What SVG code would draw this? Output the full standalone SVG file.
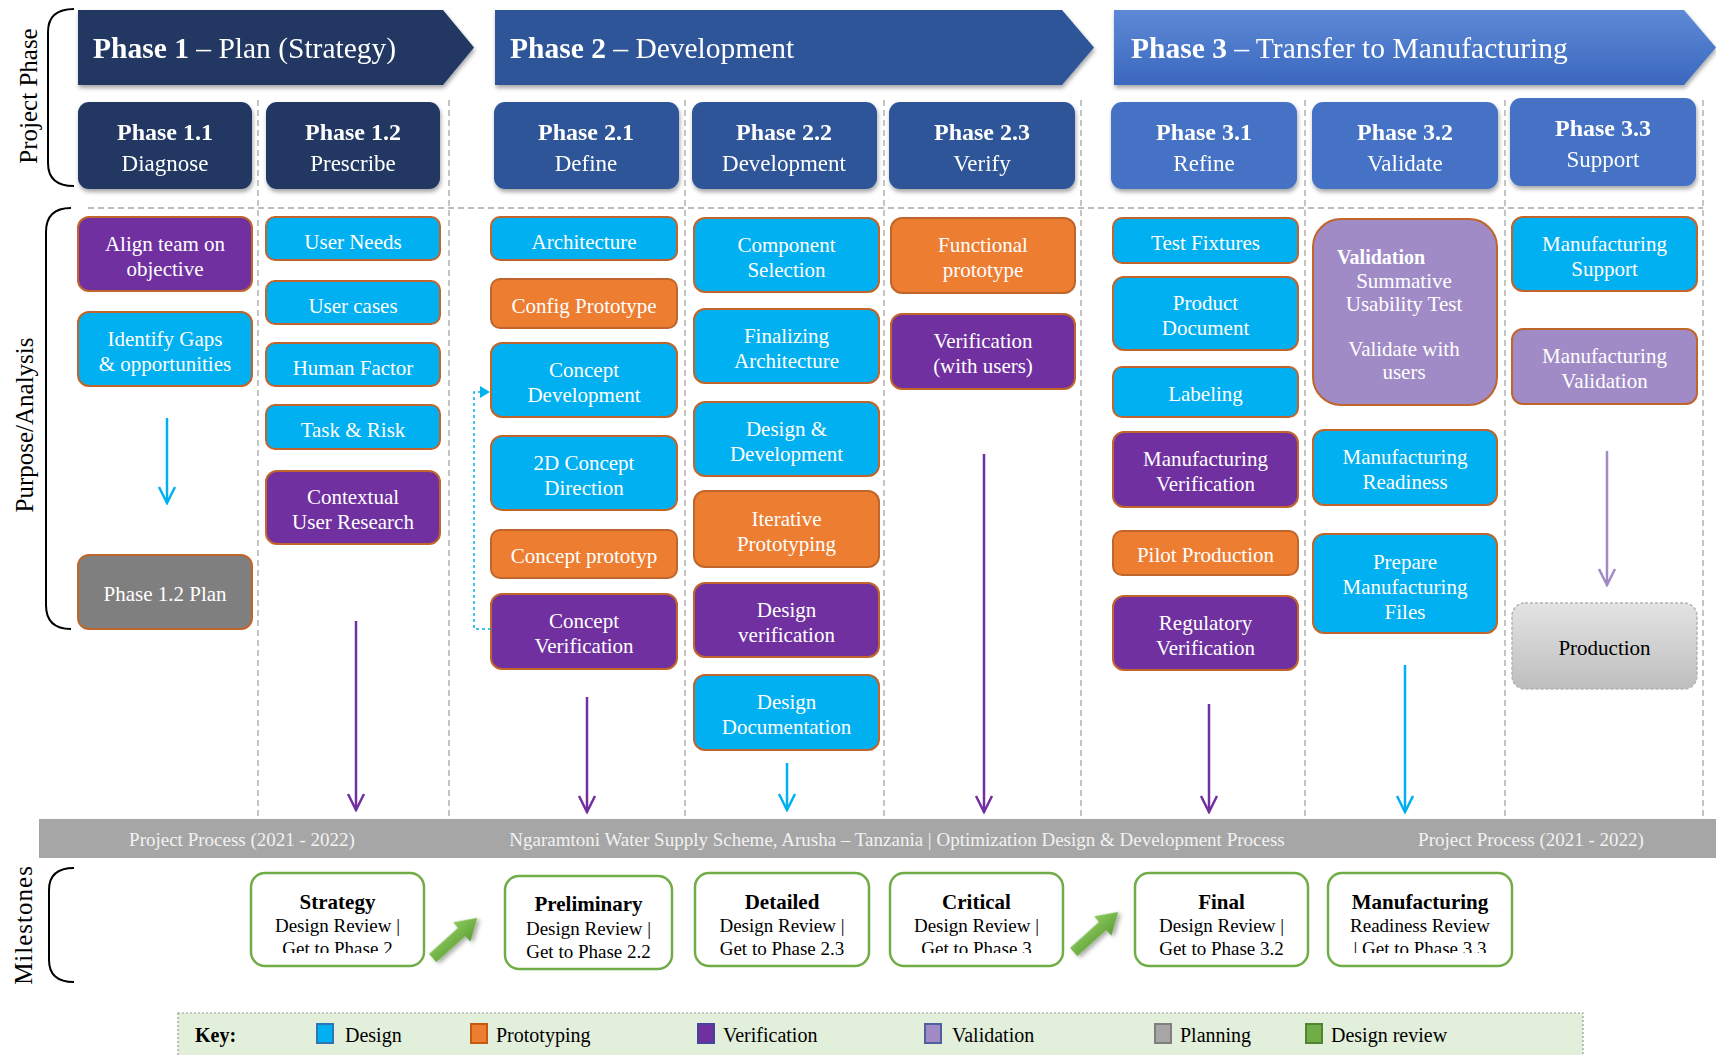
<svg xmlns="http://www.w3.org/2000/svg" width="1716" height="1055" viewBox="0 0 1716 1055">
<style>
text{font-family:"Liberation Serif","Times New Roman",serif}
.bt{font-size:21px;fill:#fff;text-anchor:middle;transform:translate(0px,2px)}
.box{stroke:#C0652B;stroke-width:2}
.de{fill:#00B0F0}.pr{fill:#ED7D31}.ve{fill:#7030A0}.va{fill:#A08BC6}.pl{fill:#7F7F7F}
.hd{font-size:29.5px;fill:#fff}
.sb1{font-size:24px;font-weight:bold;fill:#fff;text-anchor:middle}
.sb2{font-size:23px;fill:#fff;text-anchor:middle}
.vd{stroke:#A6A6A6;stroke-width:1.3;stroke-dasharray:6 4;fill:none}
.lab{font-size:25px;fill:#000;text-anchor:middle}
.br{fill:none;stroke:#000;stroke-width:2}
.ms{fill:#fff;stroke:#70AD47;stroke-width:2.5}
.m1{font-size:21px;font-weight:bold;fill:#000;text-anchor:middle}
.m2{font-size:19px;fill:#000;text-anchor:middle}
.band{font-size:19px;fill:#F2F2F2;text-anchor:middle}
.key{font-size:20px;fill:#000}
.ln{fill:none;stroke-width:2.5}
</style>
<defs>
<filter id="sh" x="-10%" y="-10%" width="125%" height="140%"><feDropShadow dx="1" dy="3" stdDeviation="2" flood-color="#000" flood-opacity="0.35"/></filter>
<linearGradient id="g3" x1="0" y1="0" x2="0" y2="1"><stop offset="0" stop-color="#5E89D6"/><stop offset="1" stop-color="#3A68BE"/></linearGradient>
<linearGradient id="gp" x1="0" y1="0" x2="0" y2="1"><stop offset="0" stop-color="#E3E3E3"/><stop offset="1" stop-color="#BEBEBE"/></linearGradient>
<linearGradient id="gg" x1="0" y1="0" x2="0" y2="1"><stop offset="0" stop-color="#8CCB5E"/><stop offset="1" stop-color="#5E9E35"/></linearGradient>
<marker id="aB" viewBox="-18 -10 20 20" refX="0" refY="0" markerWidth="20" markerHeight="20" markerUnits="userSpaceOnUse" orient="auto"><path d="M-16,-8 L0,0 L-16,8" fill="none" stroke="#00B0F0" stroke-width="2.5"/></marker>
<marker id="aP" viewBox="-18 -10 20 20" refX="0" refY="0" markerWidth="20" markerHeight="20" markerUnits="userSpaceOnUse" orient="auto"><path d="M-16,-8 L0,0 L-16,8" fill="none" stroke="#7030A0" stroke-width="2.5"/></marker>
<marker id="aL" viewBox="-18 -10 20 20" refX="0" refY="0" markerWidth="20" markerHeight="20" markerUnits="userSpaceOnUse" orient="auto"><path d="M-16,-8 L0,0 L-16,8" fill="none" stroke="#A08BC6" stroke-width="2.5"/></marker>
<marker id="tri" viewBox="-10 -6 12 12" refX="0" refY="0" markerWidth="12" markerHeight="12" markerUnits="userSpaceOnUse" orient="auto"><path d="M-10,-6 L0,0 L-10,6 z" fill="#00B0F0"/></marker>
<clipPath id="c1"><rect x="251" y="873" width="173" height="80"/></clipPath>
<clipPath id="c4"><rect x="890" y="873" width="173" height="80"/></clipPath>
<clipPath id="c6"><rect x="1328" y="873" width="184" height="80"/></clipPath>
</defs>
<rect width="1716" height="1055" fill="#fff"/>

<!-- side labels and brackets -->
<g id="side-labels">
<path class="br" d="M74,9 Q48,9 48,32 L48,163 Q48,186 74,186"/>
<text class="lab" font-size="27" transform="translate(37,96) rotate(-90)">Project Phase</text>
<path class="br" d="M71,208 Q46,208 46,232 L46,605 Q46,629 71,629"/>
<text class="lab" transform="translate(33,425) rotate(-90)">Purpose/Analysis</text>
<path class="br" d="M74,868 Q49,868 49,890 L49,960 Q49,982 74,982"/>
<text class="lab" font-size="24" letter-spacing="1" transform="translate(32,925) rotate(-90)">Milestones</text>
</g>

<!-- grid -->
<g id="grid">
<path class="vd" d="M88,208 H1703"/>
<path class="vd" d="M258,100 V818 M449,100 V818 M685,100 V818 M884,100 V818 M1081,100 V818 M1305,100 V818 M1505,100 V818 M1703,100 V818"/>
</g>

<!-- phase headers -->
<g id="phase1" filter="url(#sh)">
<polygon points="78,10 443,10 474,47.5 443,85 78,85" fill="#203864"/>
<text class="hd" x="93" y="58"><tspan font-weight="bold">Phase 1</tspan> – Plan (Strategy)</text>
</g>
<g id="phase2" filter="url(#sh)">
<polygon points="495,10 1062,10 1094,47.5 1062,85 495,85" fill="#2F5597"/>
<text class="hd" x="510" y="58"><tspan font-weight="bold">Phase 2</tspan> – Development</text>
</g>
<g id="phase3" filter="url(#sh)">
<polygon points="1114,10 1684,10 1716,47.5 1684,85 1114,85" fill="url(#g3)"/>
<text class="hd" x="1131" y="58"><tspan font-weight="bold">Phase 3</tspan> – Transfer to Manufacturing</text>
</g>

<g id="p11" filter="url(#sh)"><rect x="78" y="102" width="174" height="87" rx="11" fill="#203864"/><text class="sb1" x="165" y="140">Phase 1.1</text><text class="sb2" x="165" y="171">Diagnose</text></g>
<g id="p12" filter="url(#sh)"><rect x="266" y="102" width="174" height="87" rx="11" fill="#203864"/><text class="sb1" x="353" y="140">Phase 1.2</text><text class="sb2" x="353" y="171">Prescribe</text></g>
<g id="p21" filter="url(#sh)"><rect x="494" y="102" width="185" height="87" rx="11" fill="#2F5597"/><text class="sb1" x="586" y="140">Phase 2.1</text><text class="sb2" x="586" y="171">Define</text></g>
<g id="p22" filter="url(#sh)"><rect x="692" y="102" width="185" height="87" rx="11" fill="#2F5597"/><text class="sb1" x="784" y="140">Phase 2.2</text><text class="sb2" x="784" y="171">Development</text></g>
<g id="p23" filter="url(#sh)"><rect x="889" y="102" width="186" height="87" rx="11" fill="#2F5597"/><text class="sb1" x="982" y="140">Phase 2.3</text><text class="sb2" x="982" y="171">Verify</text></g>
<g id="p31" filter="url(#sh)"><rect x="1111" y="102" width="186" height="87" rx="11" fill="#4472C4"/><text class="sb1" x="1204" y="140">Phase 3.1</text><text class="sb2" x="1204" y="171">Refine</text></g>
<g id="p32" filter="url(#sh)"><rect x="1312" y="102" width="186" height="87" rx="11" fill="#4472C4"/><text class="sb1" x="1405" y="140">Phase 3.2</text><text class="sb2" x="1405" y="171">Validate</text></g>
<g id="p33" filter="url(#sh)"><rect x="1510" y="98" width="186" height="88" rx="11" fill="#4472C4"/><text class="sb1" x="1603" y="136">Phase 3.3</text><text class="sb2" x="1603" y="167">Support</text></g>

<!-- column 1.1 -->
<g id="align"><rect class="box ve" x="78" y="217" width="174" height="74" rx="11"/><text class="bt" x="165" y="249">Align team on</text><text class="bt" x="165" y="274">objective</text></g>
<g id="gaps"><rect class="box de" x="78" y="312" width="174" height="74" rx="11"/><text class="bt" x="165" y="344">Identify Gaps</text><text class="bt" x="165" y="369">&amp; opportunities</text></g>
<g id="plan"><rect class="box pl" x="78" y="555" width="174" height="74" rx="11"/><text class="bt" x="165" y="599" font-size="20" fill="#F2F2F2">Phase 1.2 Plan</text></g>

<!-- column 1.2 -->
<g id="userneeds"><rect class="box de" x="266" y="217" width="174" height="43" rx="9"/><text class="bt" x="353" y="247">User Needs</text></g>
<g id="usercases"><rect class="box de" x="266" y="281" width="174" height="43" rx="9"/><text class="bt" x="353" y="311">User cases</text></g>
<g id="humanfactor"><rect class="box de" x="266" y="343" width="174" height="43" rx="9"/><text class="bt" x="353" y="373">Human Factor</text></g>
<g id="taskrisk"><rect class="box de" x="266" y="405" width="174" height="44" rx="9"/><text class="bt" x="353" y="435">Task &amp; Risk</text></g>
<g id="contextual"><rect class="box ve" x="266" y="471" width="174" height="73" rx="11"/><text class="bt" x="353" y="502">Contextual</text><text class="bt" x="353" y="527">User Research</text></g>

<!-- column 2.1 -->
<g id="architecture"><rect class="box de" x="491" y="217" width="186" height="43" rx="9"/><text class="bt" x="584" y="247">Architecture</text></g>
<g id="configproto"><rect class="box pr" x="491" y="279" width="186" height="49" rx="9"/><text class="bt" x="584" y="311">Config Prototype</text></g>
<g id="conceptdev"><rect class="box de" x="491" y="343" width="186" height="74" rx="11"/><text class="bt" x="584" y="375">Concept</text><text class="bt" x="584" y="400">Development</text></g>
<g id="concept2d"><rect class="box de" x="491" y="436" width="186" height="74" rx="11"/><text class="bt" x="584" y="468">2D Concept</text><text class="bt" x="584" y="493">Direction</text></g>
<g id="conceptproto"><rect class="box pr" x="491" y="530" width="186" height="48" rx="9"/><text class="bt" x="584" y="561">Concept prototyp</text></g>
<g id="conceptverif"><rect class="box ve" x="491" y="594" width="186" height="75" rx="11"/><text class="bt" x="584" y="626">Concept</text><text class="bt" x="584" y="651">Verification</text></g>

<!-- column 2.2 -->
<g id="compsel"><rect class="box de" x="694" y="218" width="185" height="74" rx="11"/><text class="bt" x="786.5" y="250">Component</text><text class="bt" x="786.5" y="275">Selection</text></g>
<g id="finarch"><rect class="box de" x="694" y="309" width="185" height="74" rx="11"/><text class="bt" x="786.5" y="341">Finalizing</text><text class="bt" x="786.5" y="366">Architecture</text></g>
<g id="designdev"><rect class="box de" x="694" y="402" width="185" height="74" rx="11"/><text class="bt" x="786.5" y="434">Design &amp;</text><text class="bt" x="786.5" y="459">Development</text></g>
<g id="iterproto"><rect class="box pr" x="694" y="491" width="185" height="76" rx="11"/><text class="bt" x="786.5" y="524">Iterative</text><text class="bt" x="786.5" y="549">Prototyping</text></g>
<g id="designverif"><rect class="box ve" x="694" y="583" width="185" height="74" rx="11"/><text class="bt" x="786.5" y="615">Design</text><text class="bt" x="786.5" y="640">verification</text></g>
<g id="designdoc"><rect class="box de" x="694" y="675" width="185" height="75" rx="11"/><text class="bt" x="786.5" y="707">Design</text><text class="bt" x="786.5" y="732">Documentation</text></g>

<!-- column 2.3 -->
<g id="funcproto"><rect class="box pr" x="891" y="218" width="184" height="75" rx="11"/><text class="bt" x="983" y="250">Functional</text><text class="bt" x="983" y="275">prototype</text></g>
<g id="verifusers"><rect class="box ve" x="891" y="314" width="184" height="75" rx="11"/><text class="bt" x="983" y="346">Verification</text><text class="bt" x="983" y="371">(with users)</text></g>

<!-- column 3.1 -->
<g id="testfix"><rect class="box de" x="1113" y="218" width="185" height="45" rx="9"/><text class="bt" x="1205.5" y="248">Test Fixtures</text></g>
<g id="proddoc"><rect class="box de" x="1113" y="277" width="185" height="73" rx="11"/><text class="bt" x="1205.5" y="308">Product</text><text class="bt" x="1205.5" y="333">Document</text></g>
<g id="labeling"><rect class="box de" x="1113" y="367" width="185" height="50" rx="9"/><text class="bt" x="1205.5" y="399">Labeling</text></g>
<g id="mfgverif"><rect class="box ve" x="1113" y="432" width="185" height="75" rx="11"/><text class="bt" x="1205.5" y="464">Manufacturing</text><text class="bt" x="1205.5" y="489">Verification</text></g>
<g id="pilot"><rect class="box pr" x="1113" y="531" width="185" height="44" rx="9"/><text class="bt" x="1205.5" y="560">Pilot Production</text></g>
<g id="regverif"><rect class="box ve" x="1113" y="596" width="185" height="74" rx="11"/><text class="bt" x="1205.5" y="628">Regulatory</text><text class="bt" x="1205.5" y="653">Verification</text></g>

<!-- column 3.2 -->
<g id="validation"><rect class="box va" x="1313" y="219" width="184" height="186" rx="28"/>
<text x="1337" y="264" font-size="20" font-weight="bold" fill="#fff">Validation</text>
<text class="bt" x="1404" y="286" font-size="18">Summative</text>
<text class="bt" x="1404" y="309" font-size="18">Usability Test</text>
<text class="bt" x="1404" y="354" font-size="18">Validate with</text>
<text class="bt" x="1404" y="377" font-size="18">users</text></g>
<g id="mfgready"><rect class="box de" x="1313" y="430" width="184" height="75" rx="11"/><text class="bt" x="1405" y="462">Manufacturing</text><text class="bt" x="1405" y="487">Readiness</text></g>
<g id="prepfiles"><rect class="box de" x="1313" y="534" width="184" height="99" rx="11"/><text class="bt" x="1405" y="567">Prepare</text><text class="bt" x="1405" y="592">Manufacturing</text><text class="bt" x="1405" y="617">Files</text></g>

<!-- column 3.3 -->
<g id="mfgsupport"><rect class="box de" x="1512" y="217" width="185" height="74" rx="11"/><text class="bt" x="1604.5" y="249">Manufacturing</text><text class="bt" x="1604.5" y="274">Support</text></g>
<g id="mfgvalid"><rect class="box va" x="1512" y="329" width="185" height="75" rx="11"/><text class="bt" x="1604.5" y="361">Manufacturing</text><text class="bt" x="1604.5" y="386">Validation</text></g>
<g id="production"><rect x="1512" y="603" width="185" height="86" rx="13" fill="url(#gp)" stroke="#B3B3B3" stroke-width="1.5" stroke-dasharray="3 2"/><text class="bt" x="1604.5" y="653" style="fill:#000">Production</text></g>

<!-- connectors -->
<g id="connectors">
<line class="ln" x1="167" y1="418" x2="167" y2="503" stroke="#00B0F0" marker-end="url(#aB)"/>
<line class="ln" x1="356" y1="621" x2="356" y2="810" stroke="#7030A0" marker-end="url(#aP)"/>
<line class="ln" x1="587" y1="697" x2="587" y2="812" stroke="#7030A0" marker-end="url(#aP)"/>
<line class="ln" x1="787" y1="763" x2="787" y2="810" stroke="#00B0F0" marker-end="url(#aB)"/>
<line class="ln" x1="984" y1="454" x2="984" y2="812" stroke="#7030A0" marker-end="url(#aP)"/>
<line class="ln" x1="1209" y1="704" x2="1209" y2="812" stroke="#7030A0" marker-end="url(#aP)"/>
<line class="ln" x1="1405" y1="665" x2="1405" y2="812" stroke="#00B0F0" marker-end="url(#aB)"/>
<line class="ln" x1="1607" y1="451" x2="1607" y2="585" stroke="#A08BC6" marker-end="url(#aL)"/>
<path d="M491,629 H474 V392 H490" fill="none" stroke="#00B0F0" stroke-width="1.5" stroke-dasharray="3 3" marker-end="url(#tri)"/>
</g>

<!-- band -->
<g id="band">
<rect x="39" y="819" width="1677" height="39" fill="#A6A6A6"/>
<text class="band" x="242" y="846">Project Process (2021 - 2022)</text>
<text class="band" x="897" y="846">Ngaramtoni Water Supply Scheme, Arusha – Tanzania | Optimization Design &amp; Development Process</text>
<text class="band" x="1531" y="846">Project Process (2021 - 2022)</text>
</g>

<!-- milestones -->
<g id="ms-strategy"><rect class="ms" x="251" y="873" width="173" height="93" rx="14"/><g clip-path="url(#c1)"><text class="m1" x="337.5" y="909">Strategy</text><text class="m2" x="337.5" y="932">Design Review |</text><text class="m2" x="337.5" y="955">Get to Phase 2</text></g></g>
<g id="ms-preliminary"><rect class="ms" x="505" y="876" width="167" height="93" rx="14"/><text class="m1" x="588.5" y="911">Preliminary</text><text class="m2" x="588.5" y="935">Design Review |</text><text class="m2" x="588.5" y="958">Get to Phase 2.2</text></g>
<g id="ms-detailed"><rect class="ms" x="695" y="873" width="174" height="93" rx="14"/><text class="m1" x="782" y="909">Detailed</text><text class="m2" x="782" y="932">Design Review |</text><text class="m2" x="782" y="955">Get to Phase 2.3</text></g>
<g id="ms-critical"><rect class="ms" x="890" y="873" width="173" height="93" rx="14"/><g clip-path="url(#c4)"><text class="m1" x="976.5" y="909">Critical</text><text class="m2" x="976.5" y="932">Design Review |</text><text class="m2" x="976.5" y="955">Get to Phase 3</text></g></g>
<g id="ms-final"><rect class="ms" x="1135" y="873" width="173" height="93" rx="14"/><text class="m1" x="1221.5" y="909">Final</text><text class="m2" x="1221.5" y="932">Design Review |</text><text class="m2" x="1221.5" y="955">Get to Phase 3.2</text></g>
<g id="ms-manufacturing"><rect class="ms" x="1328" y="873" width="184" height="93" rx="14"/><g clip-path="url(#c6)"><text class="m1" x="1420" y="909">Manufacturing</text><text class="m2" x="1420" y="932">Readiness Review</text><text class="m2" x="1420" y="955">| Get to Phase 3.3</text></g></g>
<g id="green-arrow-1" filter="url(#sh)" transform="translate(455,938) rotate(-42)"><polygon points="-30,-5.5 9,-5.5 9,-13 30,0 9,13 9,5.5 -30,5.5" fill="url(#gg)"/></g>
<g id="green-arrow-2" filter="url(#sh)" transform="translate(1096,932) rotate(-42)"><polygon points="-30,-5.5 9,-5.5 9,-13 30,0 9,13 9,5.5 -30,5.5" fill="url(#gg)"/></g>

<!-- key -->
<g id="key">
<rect x="178" y="1013" width="1405" height="50" fill="#E2EFDA" stroke="#9A9A9A" stroke-width="1.2" stroke-dasharray="2 2"/>
<text class="key" x="195" y="1042" font-weight="bold">Key:</text>
<rect x="317" y="1024" width="16" height="19" fill="#00B0F0" stroke="#2E75B6" stroke-width="2"/><text class="key" x="345" y="1042">Design</text>
<rect x="471" y="1024" width="16" height="19" fill="#ED7D31" stroke="#C55A11" stroke-width="2"/><text class="key" x="496" y="1042">Prototyping</text>
<rect x="698" y="1024" width="16" height="19" fill="#7030A0" stroke="#44449A" stroke-width="2"/><text class="key" x="723" y="1042">Verification</text>
<rect x="925" y="1024" width="16" height="19" fill="#A08BC6" stroke="#4F5FA0" stroke-width="2"/><text class="key" x="952" y="1042">Validation</text>
<rect x="1155" y="1024" width="16" height="19" fill="#A6A6A6" stroke="#7F7F7F" stroke-width="2"/><text class="key" x="1180" y="1042">Planning</text>
<rect x="1306" y="1024" width="16" height="19" fill="#70AD47" stroke="#548235" stroke-width="2"/><text class="key" x="1331" y="1042">Design review</text>
</g>
</svg>
